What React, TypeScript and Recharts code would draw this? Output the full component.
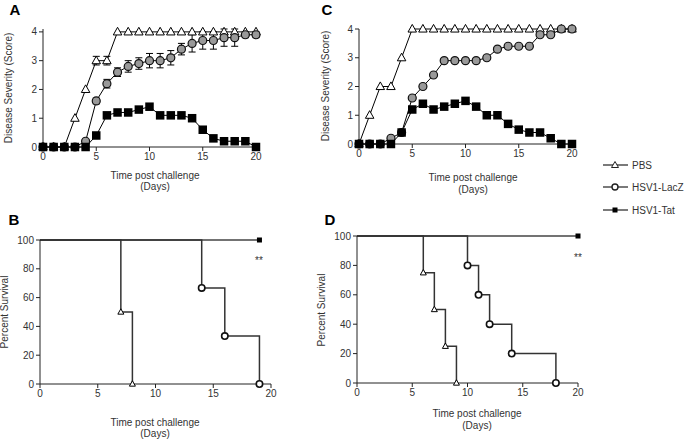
import React from "react";
import { LineChart, Line, XAxis, YAxis, ErrorBar } from "recharts";

const FONT = "'Liberation Sans', Arial, sans-serif";
const TXT = "#333";

const days = [0, 1, 2, 3, 4, 5, 6, 7, 8, 9, 10, 11, 12, 13, 14, 15, 16, 17, 18, 19, 20];

// panel A - disease severity
const aPbs = [0, 0, 0, 1, 2, 3, 3, 4, 4, 4, 4, 4, 4, 4, 4, 4, 4, 4, 4, 4, 4];
const aPbsErr = [0, 0, 0, 0, 0, 0.15, 0.15, 0, 0, 0, 0, 0, 0, 0, 0, 0, 0, 0, 0, 0, 0];
const aLacz = [0, 0, 0, 0, 0.2, 1.6, 2.2, 2.6, 2.8, 2.9, 3.0, 3.0, 3.1, 3.4, 3.6, 3.7, 3.7, 3.8, 3.8, 3.9, 3.9];
const aLaczErr = [0, 0, 0, 0, 0.05, 0.1, 0.15, 0.15, 0.2, 0.2, 0.25, 0.25, 0.25, 0.2, 0.3, 0.3, 0.3, 0.3, 0.3, 0.1, 0.1];
const aTat = [0, 0, 0, 0, 0, 0.4, 1.1, 1.2, 1.2, 1.3, 1.4, 1.1, 1.1, 1.1, 1.0, 0.6, 0.3, 0.2, 0.2, 0.2, 0];

// panel C - disease severity
const cPbs = [0, 1, 2, 2, 3, 4, 4, 4, 4, 4, 4, 4, 4, 4, 4, 4, 4, 4, 4, 4, 4];
const cLacz = [0, 0, 0, 0.2, 0.4, 1.6, 2.0, 2.4, 2.9, 2.9, 2.9, 2.9, 3.0, 3.3, 3.4, 3.4, 3.4, 3.8, 3.8, 4.0, 4.0];
const cLaczErr = [0, 0, 0, 0, 0, 0, 0, 0, 0.05, 0, 0, 0, 0, 0.05, 0, 0, 0, 0, 0, 0, 0];
const cTat = [0, 0, 0, 0, 0.4, 1.2, 1.4, 1.2, 1.3, 1.4, 1.5, 1.3, 1.0, 1.0, 0.7, 0.5, 0.4, 0.4, 0.2, 0, 0];
const cTatErr = [0, 0, 0, 0, 0, 0, 0.05, 0, 0, 0, 0.1, 0, 0, 0, 0, 0, 0, 0, 0, 0, 0];

// panel B - survival
const bPbsDays = [0, 7, 8];
const bPbsSurv = [100, 50, 0];
const bLaczDays = [0, 14, 16, 19];
const bLaczSurv = [100, 66.7, 33.3, 0];
const bTatDays = [0, 19];
const bTatSurv = [100, 100];

// panel D - survival
const dPbsDays = [0, 6, 7, 8, 9];
const dPbsSurv = [100, 75, 50, 25, 0];
const dLaczDays = [0, 10, 11, 12, 14, 18];
const dLaczSurv = [100, 80, 60, 40, 20, 0];
const dTatDays = [0, 20];
const dTatSurv = [100, 100];

const dayTicks = [0, 5, 10, 15, 20];
const scoreTicks = [0, 1, 2, 3, 4];
const survTicks = [0, 20, 40, 60, 80, 100];

const severityRows = (pbs: number[], pbsErr: number[], lacz: number[], laczErr: number[], tat: number[], tatErr: number[]) =>
  days.map((d, i) => ({
    day: d, pbs: pbs[i], pbsErr: pbsErr[i], lacz: lacz[i], laczErr: laczErr[i], tat: tat[i], tatErr: tatErr[i],
  }));

const survRows = (xs: number[], ys: number[]) => xs.map((x, i) => ({ day: x, surv: ys[i] }));

const zeros = days.map(() => 0);
const dataA = severityRows(aPbs, aPbsErr, aLacz, aLaczErr, aTat, zeros);
const dataC = severityRows(cPbs, zeros, cLacz, cLaczErr, cTat, cTatErr);

function triangle(size: number, skipFirst = false) {
  return (p: any) => {
    const { cx, cy, index } = p;
    if (skipFirst && index === 0) return <g key={`t${index}`} />;
    const h = size * 0.9;
    return (
      <path key={`t${index}`} d={`M${cx},${cy - h * 0.6} L${cx + size / 2},${cy + h * 0.4} L${cx - size / 2},${cy + h * 0.4} Z`}
        fill="#fff" stroke="#000" strokeWidth={1} />
    );
  };
}
function circle(r: number, fill: string, sw: number, skipFirst = false) {
  return (p: any) => {
    const { cx, cy, index } = p;
    if (skipFirst && index === 0) return <g key={`c${index}`} />;
    return <circle key={`c${index}`} cx={cx} cy={cy} r={r} fill={fill} stroke="#111" strokeWidth={sw} />;
  };
}
function square(size: number, skipFirst = false) {
  return (p: any) => {
    const { cx, cy, index } = p;
    if (skipFirst && index === 0) return <g key={`s${index}`} />;
    return <rect key={`s${index}`} x={cx - size / 2} y={cy - size / 2} width={size} height={size} fill="#000" />;
  };
}

const tick = { fill: TXT, fontSize: 10, fontFamily: FONT };
const axisLine = { stroke: "#222" };

function SeverityChart({ data, left, top, width, height, margin }: any) {
  return (
    <div style={{ position: "absolute", left, top }}>
      <LineChart width={width} height={height} data={data} margin={margin}>
        <XAxis dataKey="day" type="number" domain={[0, 20]} ticks={dayTicks} tick={tick}
          axisLine={axisLine} tickLine={axisLine} tickSize={4} height={30} interval={0} />
        <YAxis type="number" domain={[0, 4]} ticks={scoreTicks} tick={tick}
          axisLine={axisLine} tickLine={axisLine} tickSize={4} width={25} interval={0} />
        <Line dataKey="pbs" stroke="#000" strokeWidth={1} dot={triangle(8.5)} isAnimationActive={false}>
          <ErrorBar dataKey="pbsErr" width={3.5} stroke="#000" strokeWidth={1} direction="y" isAnimationActive={false} />
        </Line>
        <Line dataKey="lacz" stroke="#000" strokeWidth={1} dot={circle(4, "#999", 1.2)} isAnimationActive={false}>
          <ErrorBar dataKey="laczErr" width={3.5} stroke="#000" strokeWidth={1} direction="y" isAnimationActive={false} />
        </Line>
        <Line dataKey="tat" stroke="#000" strokeWidth={1} dot={square(8.5)} isAnimationActive={false}>
          <ErrorBar dataKey="tatErr" width={3.5} stroke="#000" strokeWidth={1} direction="y" isAnimationActive={false} />
        </Line>
      </LineChart>
    </div>
  );
}

function SurvivalChart({ pbs, lacz, tat, left, top, width, height, margin }: any) {
  return (
    <div style={{ position: "absolute", left, top }}>
      <LineChart width={width} height={height} margin={margin}>
        <XAxis dataKey="day" type="number" domain={[0, 20]} ticks={dayTicks} tick={tick}
          axisLine={axisLine} tickLine={axisLine} tickSize={4} height={20} interval={0} allowDuplicatedCategory={false} />
        <YAxis type="number" domain={[0, 100]} ticks={survTicks} tick={tick}
          axisLine={axisLine} tickLine={axisLine} tickSize={4} width={28} interval={0} />
        <Line data={tat} dataKey="surv" type="stepAfter" stroke="#444" strokeWidth={1.5} dot={square(5, true)} isAnimationActive={false} />
        <Line data={pbs} dataKey="surv" type="stepAfter" stroke="#333" strokeWidth={1.5} dot={triangle(6, true)} isAnimationActive={false} />
        <Line data={lacz} dataKey="surv" type="stepAfter" stroke="#333" strokeWidth={1.5} dot={circle(3.2, "#fff", 1.6, true)} isAnimationActive={false} />
      </LineChart>
    </div>
  );
}

function Overlay() {
  const t = { fontFamily: FONT, fill: TXT, fontSize: 10 } as const;
  const lab = { fontFamily: FONT, fill: "#000", fontSize: 15, fontWeight: 700 } as const;
  const legendRows = [
    { name: "PBS", y: 165, kind: "tri" },
    { name: "HSV1-LacZ", y: 187, kind: "circ" },
    { name: "HSV1-Tat", y: 210, kind: "sq" },
  ];
  return (
    <svg width={688} height={441} style={{ position: "absolute", left: 0, top: 0, pointerEvents: "none" }}>
      <text x={15} y={15} textAnchor="middle" {...lab}>A</text>
      <text x={327} y={15} textAnchor="middle" {...lab}>C</text>
      <text x={14} y={225} textAnchor="middle" {...lab}>B</text>
      <text x={330} y={225} textAnchor="middle" {...lab}>D</text>

      <text transform="translate(12,88) rotate(-90)" textAnchor="middle" {...t}>Disease Severity (Score)</text>
      <text transform="translate(329,86) rotate(-90)" textAnchor="middle" {...t}>Disease Severity (Score)</text>
      <text transform="translate(8,312) rotate(-90)" textAnchor="middle" {...t}>Percent Survival</text>
      <text transform="translate(325,310) rotate(-90)" textAnchor="middle" {...t}>Percent Survival</text>

      <text x={155} y={179} textAnchor="middle" {...t}>Time post challenge</text>
      <text x={155} y={190} textAnchor="middle" {...t}>(Days)</text>
      <text x={473} y={181} textAnchor="middle" {...t}>Time post challenge</text>
      <text x={473} y={193} textAnchor="middle" {...t}>(Days)</text>
      <text x={155} y={426} textAnchor="middle" {...t}>Time post challenge</text>
      <text x={155} y={437} textAnchor="middle" {...t}>(Days)</text>
      <text x={477} y={417} textAnchor="middle" {...t}>Time post challenge</text>
      <text x={477} y={429} textAnchor="middle" {...t}>(Days)</text>

      <text x={259} y={264} textAnchor="middle" {...t}>**</text>
      <text x={578} y={261} textAnchor="middle" {...t}>**</text>

      {legendRows.map((r) => (
        <g key={r.name}>
          <line x1={603} x2={628} y1={r.y} y2={r.y} stroke="#222" strokeWidth={1.2} />
          {r.kind === "tri" && <path d={`M615,${r.y - 3.5} L618.5,${r.y + 2.5} L611.5,${r.y + 2.5} Z`} fill="#fff" stroke="#222" strokeWidth={1} />}
          {r.kind === "circ" && <circle cx={615} cy={r.y} r={3} fill="#fff" stroke="#222" strokeWidth={1.4} />}
          {r.kind === "sq" && <rect x={612.5} y={r.y - 2.5} width={5} height={5} fill="#000" />}
          <text x={632} y={r.y + 3.5} {...t}>{r.name}</text>
        </g>
      ))}
    </svg>
  );
}

export default function App() {
  return (
    <div style={{ position: "absolute", left: 0, top: 0, width: 688, height: 441, background: "#fff", overflow: "hidden" }}>
      <SeverityChart data={dataA} left={0} top={0} width={270} height={195}
        margin={{ top: 29, right: 14, left: 18, bottom: 18 }} />
      <SeverityChart data={dataC} left={300} top={0} width={290} height={195}
        margin={{ top: 29, right: 18, left: 34, bottom: 21 }} />
      <SurvivalChart pbs={survRows(bPbsDays, bPbsSurv)} lacz={survRows(bLaczDays, bLaczSurv)} tat={survRows(bTatDays, bTatSurv)}
        left={0} top={200} width={285} height={240} margin={{ top: 40, right: 14, left: 12, bottom: 36 }} />
      <SurvivalChart pbs={survRows(dPbsDays, dPbsSurv)} lacz={survRows(dLaczDays, dLaczSurv)} tat={survRows(dTatDays, dTatSurv)}
        left={300} top={200} width={290} height={240} margin={{ top: 36, right: 12, left: 29, bottom: 37 }} />
      <Overlay />
    </div>
  );
}
